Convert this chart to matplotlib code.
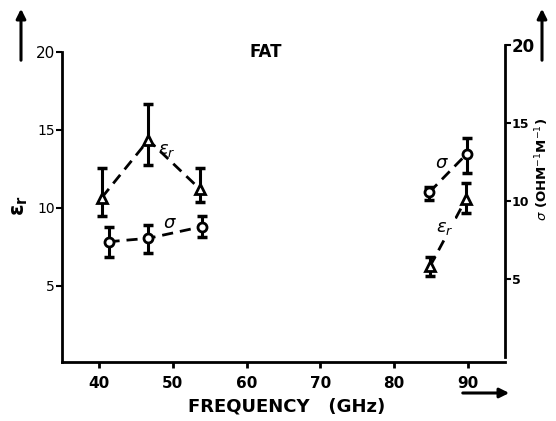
import matplotlib
matplotlib.use("Agg")
import matplotlib.pyplot as plt
import numpy as np

# --- data ---
eps_freq_a = [40.4, 46.7, 53.7]
eps_val_a = [10.66, 14.35, 11.19]
eps_low_a = [9.47, 12.74, 10.34]
eps_high_a = [12.53, 16.68, 12.53]

sig_freq_a = [41.3, 46.7, 53.9]
sig_val_a = [7.39, 7.61, 8.35]
sig_low_a = [6.43, 6.65, 7.71]
sig_high_a = [8.35, 8.46, 9.04]

eps_freq_b = [84.85, 89.7]
eps_val_b = [6.25, 10.55]
eps_low_b = [5.65, 9.69]
eps_high_b = [6.85, 11.56]

sig_freq_b = [84.75, 89.8]
sig_val_b = [10.56, 13.01]
sig_low_b = [10.06, 11.78]
sig_high_b = [10.92, 14.04]

x_ticks = [40, 50, 60, 70, 80, 90]
left_ticks = [5, 10, 15, 20]
right_ticks = [5, 10, 15, 20]

W, H = 556, 421
fig = plt.figure(figsize=(W / 100, H / 100), dpi=100)
ax = fig.add_axes([62 / W, 1 - 362 / H, (505 - 62) / W, (362 - 45) / H])
ax2 = ax.twinx()

ax.set_xlim(35, 95)
ax.set_ylim(0.1, 20.45)
ax2.set_ylim(-0.32, 20)

lw = 2.0
for a in (ax, ax2):
    for s in a.spines.values():
        s.set_linewidth(lw)
    a.spines['top'].set_visible(False)
ax.spines['right'].set_visible(False)
ax2.spines['left'].set_visible(False)
ax2.spines['bottom'].set_visible(False)
ax.spines['left'].set_bounds(0.1, 20)
ax2.spines['right'].set_bounds(0.0, 20)


def draw(a, fx, v, lo, hi, marker, ms):
    v = np.array(v); lo = np.array(lo); hi = np.array(hi)
    a.plot(fx, v, ls=(0, (4, 2.5)), color='black', lw=2.0, zorder=2)
    a.errorbar(fx, v, yerr=[v - lo, hi - v], fmt='none', ecolor='black',
               elinewidth=2.2, capsize=3.5, capthick=2.5, zorder=3)
    a.plot(fx, v, ls='none', marker=marker, ms=ms, mfc='white', mec='black',
           mew=2.0, zorder=4)


draw(ax, eps_freq_a, eps_val_a, eps_low_a, eps_high_a, '^', 7.5)
draw(ax, eps_freq_b, eps_val_b, eps_low_b, eps_high_b, '^', 7.5)
draw(ax2, sig_freq_a, sig_val_a, sig_low_a, sig_high_a, 'o', 6.5)
draw(ax2, sig_freq_b, sig_val_b, sig_low_b, sig_high_b, 'o', 6.5)

ax.set_xticks(x_ticks)
ax.set_xticklabels([str(t) for t in x_ticks], fontsize=11, fontweight='bold')
ax.set_yticks(left_ticks)
ax.set_yticklabels([str(t) for t in left_ticks], fontsize=10)
ax2.set_yticks(right_ticks)
ax2.set_yticklabels([str(t) for t in right_ticks], fontsize=9, fontweight='bold')
ax2.get_yticklabels()[-1].set_fontsize(12)
ax.get_yticklabels()[-1].set_fontsize(11)
ax.tick_params(axis='x', direction='out', length=4, width=2, pad=6)
ax.tick_params(axis='y', direction='out', length=4, width=1.5, pad=1)
ax2.tick_params(axis='y', direction='out', length=4, width=1.5, pad=1)

# curve labels
ax.text(49.2, 13.7, r'$\epsilon_r$', fontsize=13, ha='center', va='center')
ax.text(49.6, 9.05, r'$\sigma$', fontsize=13, ha='center', va='center')
ax.text(86.4, 12.9, r'$\sigma$', fontsize=13, ha='center', va='center')
ax.text(86.8, 8.72, r'$\epsilon_r$', fontsize=13, ha='center', va='center',
        zorder=5, bbox=dict(facecolor='white', edgecolor='none', pad=1.5))

# axis labels
ax.text(-0.095, 0.495, r'$\mathbf{\epsilon_r}$', transform=ax.transAxes,
        rotation=90, fontsize=15, ha='center', va='center')
ax.text(1.085, 0.606, r'$\sigma$ (OHM$^{-1}$M$^{-1}$)', transform=ax.transAxes,
        rotation=90, fontsize=9.5, fontweight='bold', ha='center', va='center')
fig.text(287 / W, 1 - 407 / H, 'FREQUENCY   (GHz)', fontsize=13,
         fontweight='bold', ha='center', va='center')
fig.text(266 / W, 1 - 52 / H, 'FAT', fontsize=12, fontweight='bold',
         ha='center', va='center')

# arrows
arrow_kw = dict(arrowstyle='-|>', color='black', lw=2.2, mutation_scale=14)
fig.patches.append(matplotlib.patches.FancyArrowPatch(
    (21 / W, 1 - 63 / H), (21 / W, 1 - 6 / H), transform=fig.transFigure, **arrow_kw))
fig.patches.append(matplotlib.patches.FancyArrowPatch(
    (542 / W, 1 - 63 / H), (542 / W, 1 - 6 / H), transform=fig.transFigure, **arrow_kw))
fig.patches.append(matplotlib.patches.FancyArrowPatch(
    (460 / W, 1 - 393 / H), (512 / W, 1 - 393 / H), transform=fig.transFigure, **arrow_kw))

fig.savefig('out.png', dpi=100)
